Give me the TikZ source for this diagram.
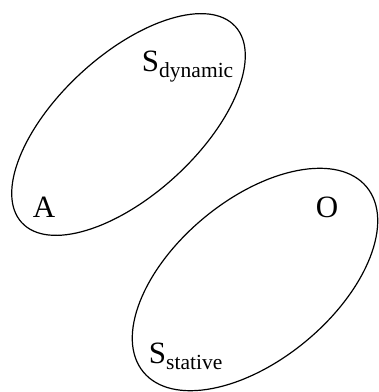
\documentclass[tikz,border=0pt]{standalone}
\usepackage{fontspec}
\setmainfont{Liberation Serif}
\usetikzlibrary{shapes.geometric}
\newcommand{\mainsz}{\fontsize{31}{31}\selectfont}
\newcommand{\subtxt}[1]{\raisebox{-0.19em}{\fontsize{21.5}{21.5}\selectfont #1}}
\tikzset{
  setbox/.style={draw, ellipse, inner sep=0pt, outer sep=0pt, line width=1.2pt},
  lbl/.style={anchor=base west, inner sep=0pt, outer sep=0pt, font=\mainsz}
}
\begin{document}
\begin{tikzpicture}[x=1pt,y=1pt]
\useasboundingbox (0,0) rectangle (379,392);
\node[setbox, minimum width=290pt, minimum height=140pt, rotate=42.6] (dyn) at (128.5,267.5) {};
\node[setbox, minimum width=290pt, minimum height=160pt, rotate=39.7] (stat) at (255,112.5) {};
\node[lbl] (sdyn) at (142,320) {S\subtxt{dynamic}};
\node[lbl] (a) at (33,174) {A};
\node[lbl] (o) at (316,175) {O};
\node[lbl] (sstat) at (149,28) {S\subtxt{stative}};
\end{tikzpicture}
\end{document}
